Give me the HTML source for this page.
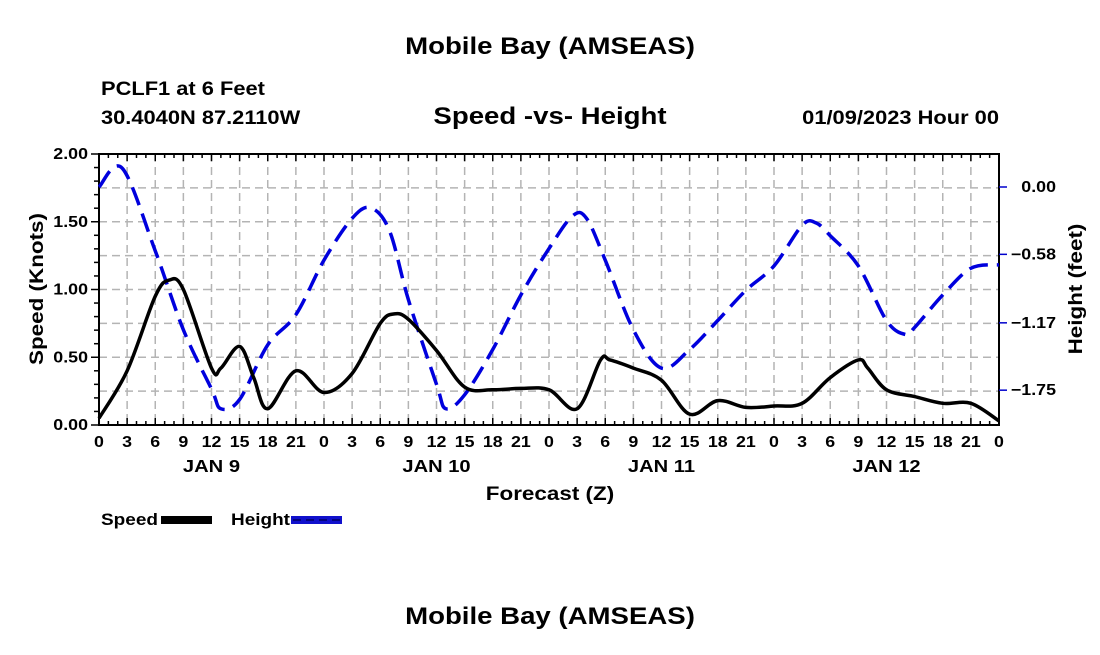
<!DOCTYPE html>
<html><head><meta charset="utf-8"><style>
body{margin:0;background:#fff;}
svg text{font-family:"Liberation Sans",Arial,sans-serif;font-weight:bold;fill:#000;}
</style></head><body>
<svg width="1100" height="650" viewBox="0 0 1100 650">
<g id="root"></g>
</svg>
<script>
const speedHours=[0,3,6,7.5,9,12,13,15,16.5,18,21,24,27,30,31.5,33,36,39,42,45,48,51,53.5,54.5,57,60,63,66,69,72,75,78,81,82,84,87,90,93,96];
const speedVals=[0.05,0.40,0.95,1.07,1.0,0.42,0.42,0.58,0.35,0.12,0.40,0.24,0.38,0.75,0.82,0.78,0.55,0.28,0.26,0.27,0.26,0.12,0.48,0.48,0.42,0.33,0.08,0.18,0.13,0.14,0.16,0.35,0.48,0.42,0.26,0.21,0.16,0.16,0.03];
const heightHours=[0,2.5,6,9,12,13,15,18,21,24,27,29,31,33,36,37,39,42,45,48,50.5,52,54,57,60,63,66,69,72,75,76.5,78,81,84,86,87,90,93,96];
const heightVals=[0,0.16,-0.55,-1.23,-1.74,-1.91,-1.83,-1.36,-1.1,-0.63,-0.27,-0.18,-0.38,-0.97,-1.7,-1.91,-1.79,-1.4,-0.93,-0.53,-0.25,-0.27,-0.63,-1.23,-1.56,-1.4,-1.15,-0.89,-0.68,-0.33,-0.31,-0.42,-0.68,-1.15,-1.27,-1.21,-0.93,-0.7,-0.67];
const leftTicks=["0.00","0.50","1.00","1.50","2.00"];
const rightTicks=["0.00","-0.58","-1.17","-1.75"];
const xTickLabels=["0","3","6","9","12","15","18","21"];
const dayLabels=["JAN 9","JAN 10","JAN 11","JAN 12"];

const X0=99,X1=999,Y0=425,Y1=154;
const xs=h=>X0+(X1-X0)*h/96;
const ys=v=>Y0-(Y0-Y1)*v/2;
const yh=v=>187-v*116.1;
const NS="http://www.w3.org/2000/svg";
const root=document.getElementById('root');
const texts=[];
function mk(t,a,txt){const e=document.createElementNS(NS,t);for(const k in a)e.setAttribute(k,a[k]);if(txt!==undefined)e.textContent=txt;root.appendChild(e);if(t==='text')texts.push(e);return e;}
function path(xa,ya){const p=xa.map((x,i)=>[x,ya[i]]);let d=`M${p[0][0]},${p[0][1]}`;for(let i=0;i<p.length-1;i++){const a=p[Math.max(0,i-1)],b=p[i],c=p[i+1],e=p[Math.min(p.length-1,i+2)];d+=` C${b[0]+(c[0]-a[0])/6},${b[1]+(c[1]-a[1])/6} ${c[0]-(e[0]-b[0])/6},${c[1]-(e[1]-b[1])/6} ${c[0]},${c[1]}`;}return d;}

let t;
t=mk('text',{x:550,y:54,'font-size':24,'text-anchor':'middle'},'Mobile Bay (AMSEAS)');
t=mk('text',{x:550,y:624,'font-size':24,'text-anchor':'middle'},'Mobile Bay (AMSEAS)');
t=mk('text',{x:101,y:95,'font-size':19},'PCLF1 at 6 Feet');
t=mk('text',{x:101,y:124,'font-size':19},'30.4040N  87.2110W');
t=mk('text',{x:550,y:124,'font-size':24,'text-anchor':'middle'},'Speed -vs- Height');
t=mk('text',{x:999,y:124,'font-size':19,'text-anchor':'end'},'01/09/2023 Hour 00');

for(let i=1;i<32;i++){const g=mk('line',{x1:xs(i*3),x2:xs(i*3),y1:Y1,y2:Y0,stroke:'#b4b4b4','stroke-width':1.5,'stroke-dasharray':'8,5'});}
for(let i=1;i<8;i++){const g=mk('line',{x1:X0,x2:X1,y1:ys(i*0.25),y2:ys(i*0.25),stroke:'#b4b4b4','stroke-width':1.5,'stroke-dasharray':'8,5'});}
const fr=mk('rect',{x:X0,y:Y1,width:X1-X0,height:Y0-Y1,fill:'none',stroke:'#000','stroke-width':2});
for(let h=0;h<=96;h++){const L=h%3==0?7:4;mk('line',{x1:xs(h),x2:xs(h),y1:Y0,y2:Y0-L,stroke:'#000','stroke-width':1.5});mk('line',{x1:xs(h),x2:xs(h),y1:Y1,y2:Y1+L,stroke:'#000','stroke-width':1.5});}
for(let i=0;i<=32;i++){const tl=mk('text',{x:xs(i*3),y:447,'font-size':15.5,'text-anchor':'middle'},i==32?'0':xTickLabels[i%8]);}
dayLabels.forEach((d,i)=>{const e=mk('text',{x:xs(12+24*i),y:472,'font-size':17.5,'text-anchor':'middle'},d);});
t=mk('text',{x:550,y:500,'font-size':19.5,'text-anchor':'middle'},'Forecast (Z)');
for(let v=0;v<=20;v++){const y=ys(v/10);mk('line',{x1:X0-(v%5==0?8:5),x2:X0,y1:y,y2:y,stroke:'#000','stroke-width':1.5});}
leftTicks.forEach((s,i)=>{const e=mk('text',{x:88,y:ys(i*0.5)+5,'font-size':15.5,'text-anchor':'end'},s);});
t=mk('text',{x:0,y:0,'font-size':19.5,'text-anchor':'middle',transform:'translate(43,289) rotate(-90)'},'Speed (Knots)');
rightTicks.forEach(s=>{const v=parseFloat(s);const y=yh(v);mk('line',{x1:X1,x2:X1+8,y1:y,y2:y,stroke:'#00c','stroke-width':1.5});const e=mk('text',{x:1056,y:y+5,'font-size':15.5,'text-anchor':'end'},s.replace('-','\u2212'));});
t=mk('text',{x:0,y:0,'font-size':19.5,'text-anchor':'middle',transform:'translate(1082,289) rotate(-90)'},'Height (feet)');

const hp=mk('path',{d:path(heightHours.map(xs),heightVals.map(yh)),fill:'none',stroke:'#0000dd','stroke-width':3.5,'stroke-dasharray':'19,9'});

const sp=mk('path',{d:path(speedHours.map(xs),speedVals.map(ys)),fill:'none',stroke:'#000','stroke-width':3.5});


t=mk('text',{x:101,y:525,'font-size':16.5},'Speed');
t=mk('rect',{x:161,y:516,width:51,height:8,fill:'#000'});
t=mk('text',{x:231,y:525,'font-size':16.5},'Height');
t=mk('rect',{x:291,y:516,width:51,height:8,fill:'#1010cc'});
mk('line',{x1:293,x2:340,y1:520,y2:520,stroke:'#000066','stroke-width':1.5,'stroke-dasharray':'8,5'});

// widen text to match the reference's wider font
texts.forEach(e=>{const w=e.getComputedTextLength();if(w>0){e.setAttribute('textLength',(w*1.15).toFixed(1));e.setAttribute('lengthAdjust','spacingAndGlyphs');}});
</script>
</body></html>
